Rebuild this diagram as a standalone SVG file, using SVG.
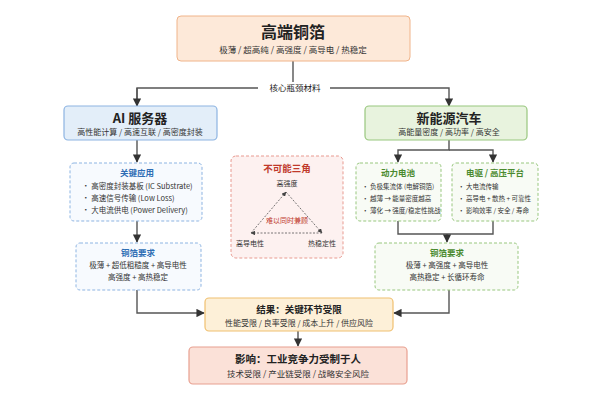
<svg xmlns="http://www.w3.org/2000/svg" width="600" height="400" viewBox="0 0 600 400">
<defs>
<marker id="ar" viewBox="0 0 10 10" refX="9" refY="5" markerWidth="6" markerHeight="6" orient="auto"><path d="M0,0L10,5L0,10z" fill="#333"/></marker>
<marker id="ar2" viewBox="0 0 10 10" refX="9" refY="5" markerWidth="6" markerHeight="6" orient="auto"><path d="M0,0L10,5L0,10z" fill="#444"/></marker>
<style>
text{font-family:"Noto Sans CJK SC","Noto Sans",sans-serif;text-anchor:middle;fill:#222}
.t{font-size:16px;font-weight:bold}
.h{font-size:12px;font-weight:bold}
.s{font-size:8px;fill:#333}
.l{font-size:7.5px;fill:#333;text-anchor:start}
.c{stroke:#555;stroke-width:1.4;fill:none}
.bd{stroke-dasharray:3 2;stroke-width:1}
.tr{stroke:#555;stroke-width:0.8;stroke-dasharray:2 1.5;fill:none}
</style>
</defs>
<rect width="600" height="400" fill="#fff"/>
<g id="connectors">
<path class="c" d="M293,61V82"/>
<path class="c" d="M137,106V88H258M330,88H449V106" marker-end="url(#ar)"/>
<path class="c" d="M137,88V106" marker-end="url(#ar)"/>
<text x="295" y="91" style="font-size:8.5px">核心瓶颈材料</text>
<path class="c" d="M137,140V162" marker-end="url(#ar)"/>
<path class="c" d="M137,221V242" marker-end="url(#ar)"/>
<path class="c" d="M137,290V313H204" marker-end="url(#ar)"/>
<path class="c" d="M449,140V150H398V162" marker-end="url(#ar)"/>
<path class="c" d="M449,150H493V162" marker-end="url(#ar)"/>
<path class="c" d="M398,221V234H493V221"/>
<path class="c" d="M447,234V242" marker-end="url(#ar)"/>
<path class="c" d="M449,290V313H394" marker-end="url(#ar)"/>
<path class="c" d="M298,331V346" marker-end="url(#ar)"/>
</g>
<g id="top"><rect x="177" y="16" width="233" height="45" rx="4" fill="#fde9d9" stroke="#f0b48a"/>
<text x="293" y="38" class="t">高端铜箔</text><text x="293" y="53" class="s" style="font-size:8.5px">极薄 / 超高纯 / 高强度 / 高导电 / 热稳定</text></g>
<g id="ai"><rect x="64" y="106" width="153" height="34" rx="4" fill="#e3eef9" stroke="#8db4e2" stroke-width="1.2"/>
<text x="140" y="123" class="h" style="font-size:13px">AI 服务器</text><text x="140" y="135" class="s">高性能计算 / 高速互联 / 高密度封装</text></g>
<g id="aiapps"><rect x="70" y="163" width="132" height="58" rx="4" fill="#f7fafe" stroke="#8db4e2" class="bd"/>
<text x="137" y="176" style="font-size:8.5px;font-weight:bold;fill:#2e6db4">关键应用</text>
<text x="82" y="189" class="l">• 高密度封装基板 (IC Substrate)</text>
<text x="82" y="201" class="l">• 高速信号传输 (Low Loss)</text>
<text x="82" y="213" class="l">• 大电流供电 (Power Delivery)</text></g>
<g id="aireq"><rect x="76" y="243" width="125" height="47" rx="4" fill="#f7fafe" stroke="#8db4e2" class="bd"/>
<text x="138" y="256" style="font-size:8.5px;font-weight:bold;fill:#2e6db4">铜箔要求</text>
<text x="138" y="268" class="s" style="font-size:7.5px">极薄 + 超低粗糙度 + 高导电性</text>
<text x="138" y="280" class="s" style="font-size:7.5px">高强度 + 高热稳定</text></g>
<g id="tri"><rect x="231" y="156" width="112" height="102" rx="5" fill="#fdf1f0" stroke="#e89a90" class="bd"/>
<text x="287" y="172" style="font-size:9.5px;font-weight:bold;fill:#c0392b">不可能三角</text>
<text x="287" y="186" class="s" style="font-size:7px">高强度</text>
<path class="tr" d="M251,233L286,192" marker-end="url(#ar2)"/>
<path class="tr" d="M286,192L322,233" marker-end="url(#ar2)"/>
<path class="tr" d="M322,233H251" marker-end="url(#ar2)"/>
<text x="287" y="223" style="font-size:7px;fill:#c0392b">难以同时兼顾</text>
<text x="250" y="246" class="s" style="font-size:7px">高导电性</text>
<text x="322" y="246" class="s" style="font-size:7px">热稳定性</text></g>
<g id="nev"><rect x="365" y="106" width="162" height="34" rx="4" fill="#e8f3de" stroke="#98c77e" stroke-width="1.2"/>
<text x="449" y="123" class="h" style="font-size:13px">新能源汽车</text><text x="449" y="135" class="s">高能量密度 / 高功率 / 高安全</text></g>
<g id="battery"><rect x="356" y="163" width="85" height="58" rx="4" fill="#f8fbf5" stroke="#98c77e" class="bd"/>
<text x="398" y="176" style="font-size:8.5px;font-weight:bold;fill:#4a8a2e">动力电池</text>
<text x="362" y="189" class="l" style="font-size:6.5px">• 负极集流体 (电解铜箔)</text>
<text x="362" y="201" class="l" style="font-size:6.5px">• 越薄 → 能量密度越高</text>
<text x="362" y="213" class="l" style="font-size:6.5px">• 薄化 → 强度/稳定性挑战</text></g>
<g id="drive"><rect x="452" y="163" width="86" height="58" rx="4" fill="#f8fbf5" stroke="#98c77e" class="bd"/>
<text x="495" y="176" style="font-size:8.5px;font-weight:bold;fill:#4a8a2e">电驱 / 高压平台</text>
<text x="458" y="189" class="l" style="font-size:6.5px">• 大电流传输</text>
<text x="458" y="201" class="l" style="font-size:6.5px">• 高导电 + 散热 + 可靠性</text>
<text x="458" y="213" class="l" style="font-size:6.5px">• 影响效率 / 安全 / 寿命</text></g>
<g id="nevreq"><rect x="375" y="243" width="143" height="47" rx="4" fill="#f8fbf5" stroke="#98c77e" class="bd"/>
<text x="447" y="256" style="font-size:8.5px;font-weight:bold;fill:#4a8a2e">铜箔要求</text>
<text x="447" y="268" class="s" style="font-size:7.5px">极薄 + 高强度 + 高导电性</text>
<text x="447" y="280" class="s" style="font-size:7.5px">高热稳定 + 长循环寿命</text></g>
<g id="result"><rect x="205" y="298" width="188" height="33" rx="4" fill="#fdf0d8" stroke="#f0c070" stroke-width="1.2"/>
<text x="299" y="313" style="font-size:9.5px;font-weight:bold">结果：关键环节受限</text>
<text x="299" y="326" class="s">性能受限 / 良率受限 / 成本上升 / 供应风险</text></g>
<g id="impact"><rect x="189" y="347" width="218" height="37" rx="4" fill="#fbe1d8" stroke="#e8a090" stroke-width="1.2"/>
<text x="298" y="363" style="font-size:10.5px;font-weight:bold">影响：工业竞争力受制于人</text>
<text x="298" y="377" class="s" style="font-size:8.5px">技术受限 / 产业链受限 / 战略安全风险</text></g>
</svg>
